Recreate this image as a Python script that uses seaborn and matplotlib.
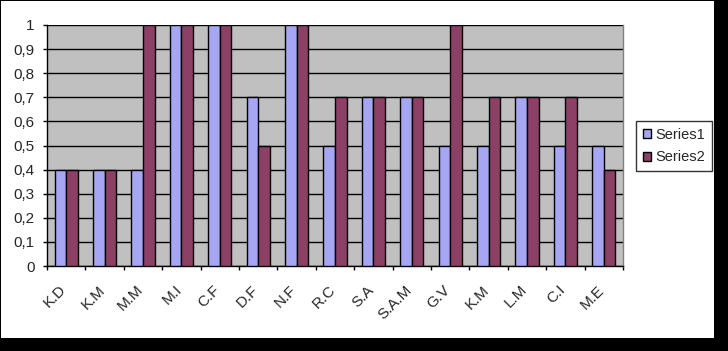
import matplotlib
matplotlib.use("Agg")
import matplotlib.pyplot as plt
import seaborn as sns
import pandas as pd
from matplotlib.patches import Rectangle

categories = ["K.D", "K.M", "M.M", "M.I", "C.F", "D.F", "N.F", "R.C", "S.A", "S.A.M", "G.V", "K.M", "L.M", "C.I", "M.E"]
series1 = [0.4, 0.4, 0.4, 1.0, 1.0, 0.7, 1.0, 0.5, 0.7, 0.7, 0.5, 0.5, 0.7, 0.5, 0.5]
series2 = [0.4, 0.4, 1.0, 1.0, 1.0, 0.5, 1.0, 0.7, 0.7, 0.7, 1.0, 0.7, 0.7, 0.7, 0.4]
series_names = ["Series1", "Series2"]
colors = ["#9999FF", "#993366"]
yticks = [0, 0.1, 0.2, 0.3, 0.4, 0.5, 0.6, 0.7, 0.8, 0.9, 1.0]

rows = []
for i, c in enumerate(categories):
    rows.append({"pos": i, "val": series1[i], "series": series_names[0]})
    rows.append({"pos": i, "val": series2[i], "series": series_names[1]})
df = pd.DataFrame(rows)

sns.set_theme(style="white")
plt.rcParams["font.family"] = ["Liberation Sans", "DejaVu Sans"]

W, H = 728, 351
fig = plt.figure(figsize=(W / 100, H / 100), dpi=100, facecolor="black")
fig.patches.append(Rectangle((1 / W, 13 / H), 713 / W, 337 / H, transform=fig.transFigure,
                             facecolor="white", edgecolor="none", zorder=-10))

left, right, top, bottom = 47, 623, 25, 266
ax = fig.add_axes([left / W, 1 - bottom / H, (right - left) / W, (bottom - top) / H])
ax.set_facecolor("#C0C0C0")

sns.barplot(data=df, x="pos", y="val", hue="series", palette=colors, edgecolor="black",
            linewidth=1, width=0.6, gap=0, ax=ax, zorder=3)

ax.set_xlim(-0.5, len(categories) - 0.5)
ax.set_ylim(0, 1)
ax.set_yticks(yticks)
ax.set_yticklabels([("%g" % v).replace(".", ",") for v in yticks], fontsize=11)
ax.yaxis.grid(True, color="#000000", linewidth=1, zorder=1)
ax.set_axisbelow(True)
ax.tick_params(axis="y", direction="out", length=3, width=1, color="black", left=True, pad=6)

# category boundary ticks
ax.set_xticks([i - 0.5 for i in range(len(categories) + 1)])
ax.set_xticklabels([])
ax.tick_params(axis="x", direction="out", length=3, width=1, color="black", bottom=True)
for i, c in enumerate(categories):
    ax.annotate(c, xy=(i, 0), xycoords=("data", "axes fraction"), xytext=(-5, -12),
                textcoords="offset points", rotation=45, ha="right", va="top",
                rotation_mode="anchor", fontsize=11)

ax.set_xlabel("")
ax.set_ylabel("")
for s in ["left", "bottom"]:
    ax.spines[s].set_color("black")
    ax.spines[s].set_linewidth(1)
ax.spines["top"].set_visible(False)
ax.spines["right"].set_color("#808080")
ax.spines["right"].set_linewidth(1)

handles, labels = ax.get_legend_handles_labels()
leg = ax.legend(handles, labels, loc="upper left", bbox_to_anchor=(636 / W, 1 - 121 / H),
                bbox_transform=fig.transFigure, fontsize=10.5, frameon=True, fancybox=False,
                edgecolor="black", handlelength=0.6, handleheight=0.6, handletextpad=0.3,
                borderpad=0.45, labelspacing=0.6, borderaxespad=0)
leg.get_frame().set_linewidth(1)

fig.savefig("out.png", dpi=100, facecolor=fig.get_facecolor())
